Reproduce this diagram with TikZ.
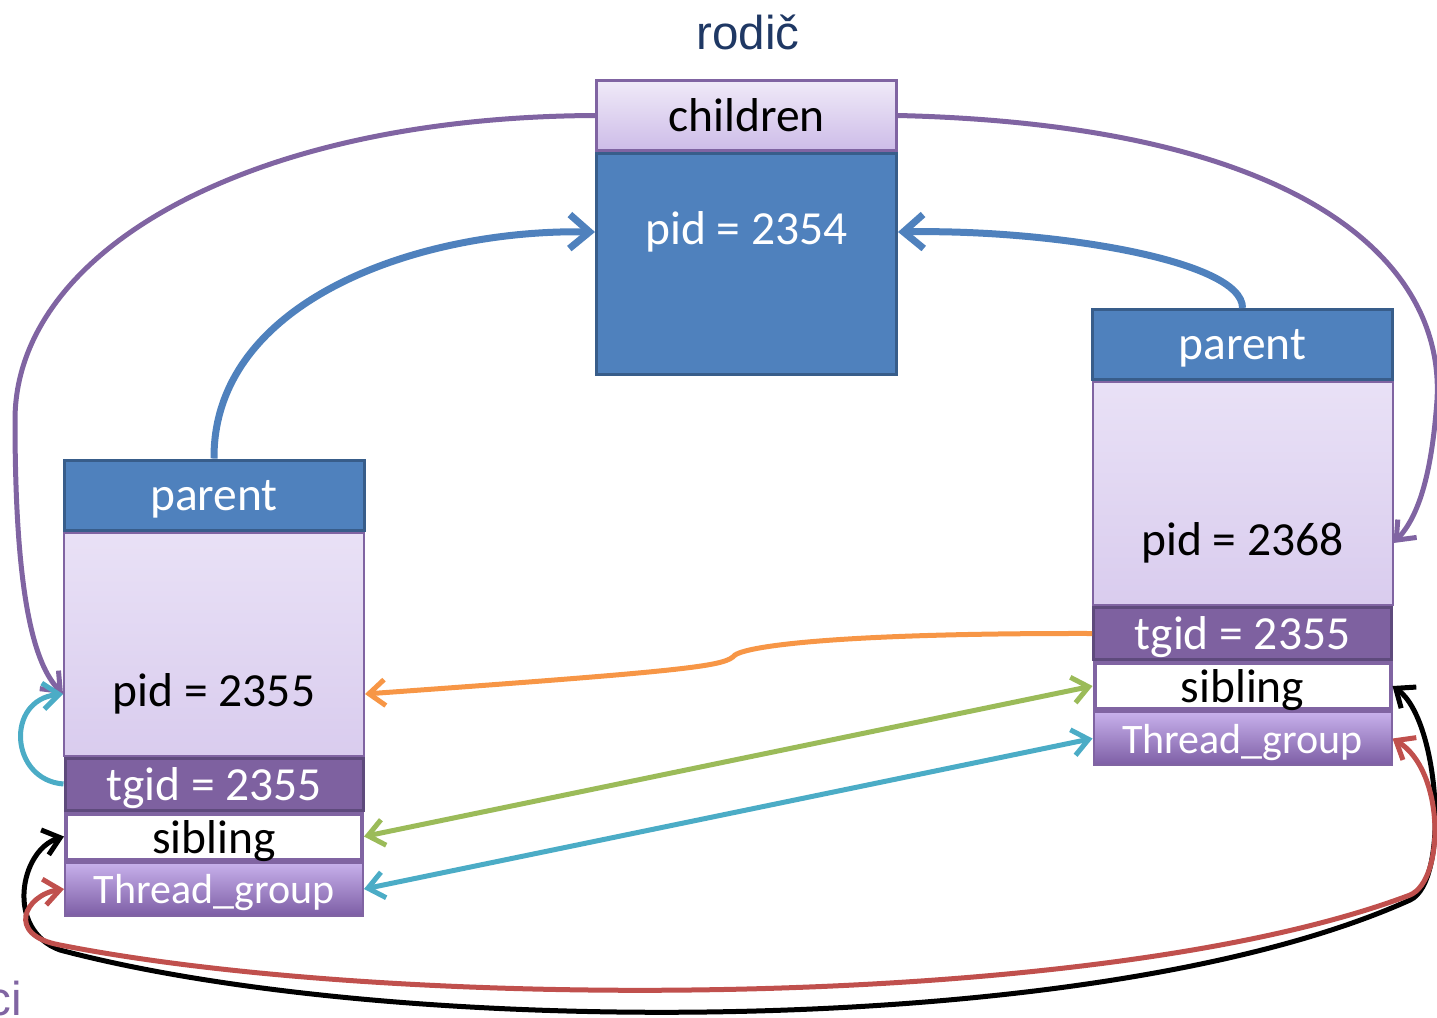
\documentclass[tikz,border=0pt]{standalone}
\usepackage{fontspec}
\setmainfont{Carlito}
\newfontfamily\titlefont{Liberation Sans}
\usetikzlibrary{positioning,arrows.meta}

\definecolor{boxblue}{HTML}{4F81BD}
\definecolor{boxblueline}{HTML}{385D8A}
\definecolor{lnpurple}{HTML}{8064A2}
\definecolor{lnorange}{HTML}{F79646}
\definecolor{lngreen}{HTML}{9BBB59}
\definecolor{lncyan}{HTML}{4BACC6}
\definecolor{lnred}{HTML}{C0504D}
\definecolor{tgidfill}{HTML}{7E61A0}
\definecolor{tgidline}{HTML}{5E4A7C}
\definecolor{titleblue}{HTML}{1F3864}
\definecolor{headtop}{HTML}{F0EAF8}
\definecolor{headbot}{HTML}{CDBCE8}
\definecolor{bodytop}{HTML}{E9E1F6}
\definecolor{bodybot}{HTML}{D9CCEE}
\definecolor{grouptop}{HTML}{C8B1EC}
\definecolor{groupbot}{HTML}{7D5EA5}

\begin{document}
\begin{tikzpicture}[x=1pt, y=-1pt, font=\fontsize{47.5}{57}\selectfont, >={Straight Barb[length=16pt,width=26pt]}]
    \useasboundingbox (0,0) rectangle (1437,1017);
    % 节点样式
    \tikzstyle{titletext} = [inner sep=0pt, text=titleblue, font=\titlefont\fontsize{47.5}{57}\selectfont]
    \tikzstyle{bluehead} = [rectangle, minimum width=300pt, minimum height=70pt, inner sep=0pt, text depth=0pt, text centered, draw=boxblueline, line width=3pt, fill=boxblue, text=white]
    \tikzstyle{bluebody} = [rectangle, minimum width=300pt, minimum height=221pt, inner sep=0pt, draw=boxblueline, line width=3pt, fill=boxblue]
    \tikzstyle{lilachead} = [rectangle, minimum width=300pt, minimum height=70pt, inner sep=0pt, text depth=0pt, text centered, draw=lnpurple, line width=2.5pt, top color=headtop, bottom color=headbot]
    \tikzstyle{lilacbody} = [rectangle, minimum width=300pt, minimum height=223pt, inner sep=0pt, draw=lnpurple, line width=2pt, top color=bodytop, bottom color=bodybot]
    \tikzstyle{tgidrow} = [rectangle, minimum width=298pt, minimum height=52pt, inner sep=0pt, text depth=0pt, text centered, draw=tgidline, line width=3pt, fill=tgidfill, text=white]
    \tikzstyle{sibrow} = [rectangle, minimum width=296pt, minimum height=46pt, inner sep=0pt, text depth=0pt, text centered, draw=lnpurple, line width=4pt, fill=white]
    \tikzstyle{grouprow} = [rectangle, minimum width=298pt, minimum height=53pt, inner sep=0pt, text depth=0pt, text centered, draw=lnpurple, line width=2pt, top color=grouptop, bottom color=groupbot, text=white, font=\fontsize{42}{50}\selectfont]
    \tikzstyle{plaintext} = [inner sep=0pt]
    \tikzstyle{purplelink} = [line width=5pt, draw=lnpurple, ->]
    \tikzstyle{bluelink} = [line width=7pt, draw=boxblue, ->, >={Straight Barb[length=20pt,width=34pt]}]
    \tikzstyle{orangelink} = [line width=5pt, draw=lnorange, ->]
    \tikzstyle{greenlink} = [line width=5pt, draw=lngreen, <->]
    \tikzstyle{cyanlink} = [line width=5pt, draw=lncyan, <->]
    \tikzstyle{blacklink} = [line width=5pt, draw=black, <->]
    \tikzstyle{redlink} = [line width=5pt, draw=lnred, <->]

    % 父进程
    \node [titletext] (title) at (748,32) {rodič};
    \node [lilachead] (chd) at (746.5,115.5) {children};
    \node [bluebody, below=0pt of chd] (pbody) {};
    \node [plaintext, text=white] (ppid) at (746.5,232) {pid = 2354};

    % 左边的子进程
    \node [bluehead] (lpar) at (214,495) {parent};
    \node [lilacbody, below=0pt of lpar] (lbody) {};
    \node [plaintext] (lpid) at (214,694) {pid = 2355};
    \node [tgidrow, below=0pt of lbody] (ltgid) {tgid = 2355};
    \node [sibrow, below=0pt of ltgid] (lsib) {sibling};
    \node [grouprow, below=0pt of lsib] (ltg) {Thread\_group};

    % 右边的子进程
    \node [bluehead] (rpar) at (1242.5,344.5) {parent};
    \node [lilacbody, below=0pt of rpar] (rbody) {};
    \node [plaintext] (rpid) at (1242.5,543) {pid = 2368};
    \node [tgidrow, below=0pt of rbody] (rtgid) {tgid = 2355};
    \node [sibrow, below=0pt of rtgid] (rsib) {sibling};
    \node [grouprow, below=0pt of rsib] (rtg) {Thread\_group};

    \node [titletext, text=lnpurple, anchor=base east] (ci) at (22,1015) {ci};

    % 连线
    \draw [purplelink] (chd.west) .. controls (250,117) and (15,250) .. (15,420) .. controls (15,600) and (35,665) .. (lbody.west |- lpid);
    \draw [purplelink] (chd.east) .. controls (1300,125) and (1445,260) .. (1437,400) .. controls (1432,470) and (1420,515) .. (rbody.east |- rpid);
    \draw [bluelink] (lpar.north) .. controls (213,300) and (420,229) .. (pbody.west |- ppid);
    \draw [bluelink] (rpar.north) .. controls (1243,260) and (1050,229) .. (pbody.east |- ppid);
    \draw [orangelink] (rtgid.west) .. controls (850,633) and (750,645) .. (735,655) .. controls (725,666) and (700,670) .. (lbody.east |- lpid);
    \draw [greenlink] (lsib.east) -- (rsib.west);
    \draw [cyanlink] (ltg.east) -- (rtg.west);
    \draw [cyanlink, -> ] (ltgid.west) .. controls (10,780) and (5,700) .. (lbody.west |- lpid);
    \draw [blacklink] (lsib.west) .. controls (20,850) and (5,930) .. (60,950) .. controls (400,1040) and (1100,1040) .. (1410,900) .. controls (1450,882) and (1440,720) .. (rsib.east);
    \draw [redlink] (ltg.west) .. controls (25,895) and (5,935) .. (60,945) .. controls (400,1012) and (1100,1012) .. (1410,895) .. controls (1445,880) and (1445,770) .. (rtg.east);
\end{tikzpicture}
\end{document}
